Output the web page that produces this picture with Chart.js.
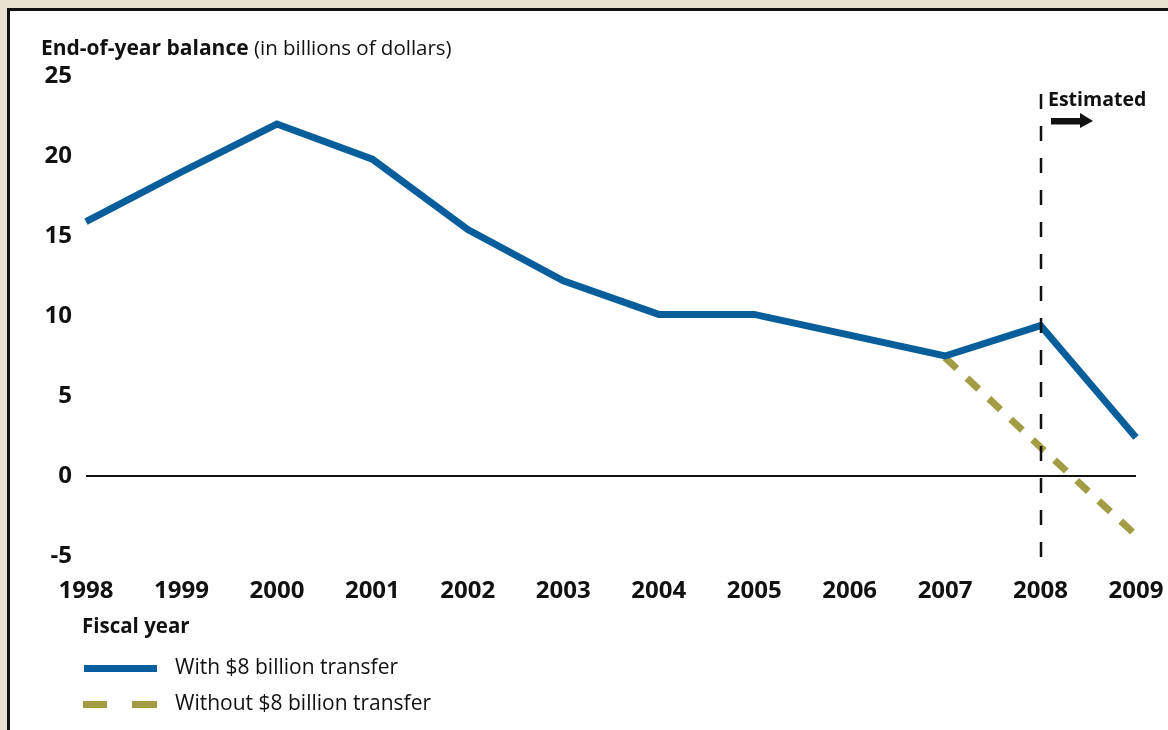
<!DOCTYPE html>
<html>
<head>
<meta charset="utf-8">
<script src="https://cdn.jsdelivr.net/npm/chart.js@4"></script>
<style>
    html, body { margin: 0; padding: 0; }
    body {
        width: 1168px; height: 730px; overflow: hidden; position: relative;
        background: #e8e1d0;
        font-family: "Open Sans", "Noto Sans", sans-serif; color: #111;
    }
    #panel {
        position: absolute; left: 7px; top: 8px; width: 1200px; height: 760px;
        background: #fff; border-left: 3px solid #111; border-top: 3px solid #111;
    }
    #wrap { position: absolute; left: 0; top: 0; width: 1168px; height: 730px; }
    .txt { position: absolute; white-space: nowrap; line-height: 1; }
    .title { left: 41px; top: 37px; }
    .title b { font-weight: 700; font-size: 21px; }
    .title span { font-weight: 400; font-size: 20.5px; }
    .fiscal { left: 82px; top: 615px; font-size: 20.5px; font-weight: 700; }
    .est { left: 1048px; top: 89px; font-size: 19.5px; font-weight: 700; }
    .leg { left: 175px; font-size: 21px; }
    .swatch { position: absolute; height: 7px; }
</style>
</head>
<body>
<div id="panel"></div>
<div id="wrap"><canvas id="balanceChart"></canvas></div>

<div class="txt title"><b>End-of-year balance</b><span> (in billions of dollars)</span></div>
<div class="txt est">Estimated</div>
<div class="txt fiscal">Fiscal year</div>

<div class="swatch" id="swWith" style="left:84px; top:665px; width:73px;"></div>
<div class="txt leg" style="top:656px;">With $8 billion transfer</div>
<div class="swatch" id="swWo1" style="left:83px; top:701px; width:24px;"></div>
<div class="swatch" id="swWo2" style="left:132px; top:701px; width:25px;"></div>
<div class="txt leg" style="top:692px;">Without $8 billion transfer</div>

<script>

// =====================================
// Data
// =====================================

const years = ["1998", "1999", "2000", "2001", "2002", "2003", "2004", "2005", "2006", "2007", "2008", "2009"];

const withTransfer = [15.9, 19.0, 22.0, 19.8, 15.4, 12.2, 10.1, 10.1, 8.8, 7.5, 9.4, 2.4];

const withoutTransfer = [null, null, null, null, null, null, null, null, null, 7.4, 1.8, -3.7];

const yTicks = [-5, 0, 5, 10, 15, 20, 25];

const estimatedFrom = "2008";

const BLUE = "#075e9b";
const OLIVE = "#a29d45";
const INK = "#111111";

document.getElementById("swWith").style.background = BLUE;
document.getElementById("swWo1").style.background = OLIVE;
document.getElementById("swWo2").style.background = OLIVE;

// =====================================
// Estimated marker (dashed line + arrow)
// =====================================

const estimatedPlugin = {

    id: "estimated",

    afterDatasetsDraw(chart) {

        const ctx = chart.ctx;

        const x = Math.round(chart.scales.x.getPixelForValue(years.indexOf(estimatedFrom)));

        ctx.save();

        ctx.strokeStyle = INK;
        ctx.lineWidth = 2.5;
        ctx.setLineDash([15, 17]);
        ctx.beginPath();
        ctx.moveTo(x, 94);
        ctx.lineTo(x, 570);
        ctx.stroke();

        // arrow
        ctx.setLineDash([]);
        ctx.fillStyle = INK;
        ctx.beginPath();
        ctx.moveTo(x + 10, 118);
        ctx.lineTo(x + 39, 118);
        ctx.lineTo(x + 39, 113);
        ctx.lineTo(x + 52, 121);
        ctx.lineTo(x + 39, 128);
        ctx.lineTo(x + 39, 124.5);
        ctx.lineTo(x + 10, 124.5);
        ctx.closePath();
        ctx.fill();

        ctx.restore();

    }

};

// =====================================
// Chart
// =====================================

const ctx = document.getElementById("balanceChart").getContext("2d");

new Chart(ctx, {

    type: "line",

    data: {

        labels: years,

        datasets: [

            {
                label: "With $8 billion transfer",
                data: withTransfer,
                borderColor: BLUE,
                borderWidth: 7,
                pointRadius: 0,
                tension: 0,
                borderJoinStyle: "miter",
                fill: false
            },

            {
                label: "Without $8 billion transfer",
                data: withoutTransfer,
                borderColor: OLIVE,
                borderWidth: 7,
                borderDash: [16, 14],
                borderCapStyle: "butt",
                pointRadius: 0,
                tension: 0,
                fill: false
            }

        ]

    },

    options: {

        responsive: true,
        maintainAspectRatio: false,
        animation: false,
        devicePixelRatio: 1,

        layout: {
            padding: { left: 0, top: 76, right: 32, bottom: 114 }
        },

        plugins: {
            legend: { display: false },
            tooltip: { enabled: false }
        },

        scales: {

            x: {
                offset: false,
                grid: { display: false, drawTicks: false },
                border: { display: false },
                ticks: {
                    autoSkip: false,
                    maxRotation: 0,
                    padding: 21,
                    color: INK,
                    font: { family: "'Open Sans', sans-serif", size: 24, weight: "bold" }
                },
                afterFit(scale) {
                    scale.height = 60;
                    scale.paddingLeft = 0;
                    scale.paddingRight = 0;
                }
            },

            y: {
                min: -5,
                max: 25,
                afterBuildTicks(scale) {
                    scale.ticks = yTicks.map(v => ({ value: v }));
                },
                grid: {
                    drawTicks: false,
                    color: c => (c.tick && c.tick.value === 0 ? INK : "rgba(0,0,0,0)"),
                    lineWidth: 2
                },
                border: { display: false },
                ticks: {
                    padding: 14,
                    color: INK,
                    font: { family: "'Open Sans', sans-serif", size: 24, weight: "bold" }
                },
                afterFit(scale) {
                    scale.width = 86;
                    scale.paddingTop = 0;
                    scale.paddingBottom = 0;
                }
            }

        }

    },

    plugins: [estimatedPlugin]

});

</script>
</body>
</html>
